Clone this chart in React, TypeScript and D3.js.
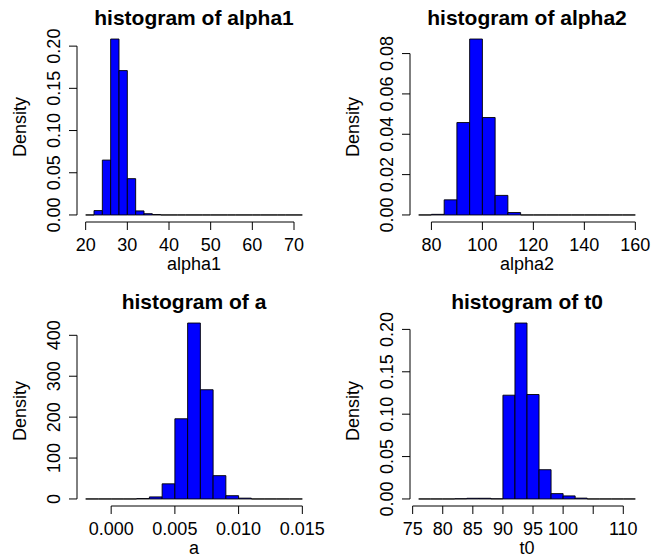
import React, { useEffect } from 'react'
import * as d3 from 'd3'

// histogram bins (breaks + density per bin)
const alpha1Breaks = [20, 22, 24, 26, 28, 30, 32, 34, 36, 38, 40, 42, 44, 46, 48, 50, 52, 54, 56, 58, 60, 62, 64, 66, 68, 70, 72]
const alpha1Density = [0, 0.0052, 0.065, 0.2084, 0.171, 0.043, 0.0048, 0.0015, 0.0005, 0, 0, 0, 0, 0, 0, 0, 0, 0, 0, 0, 0, 0, 0, 0, 0, 0]
const alpha1XTicks = [20, 30, 40, 50, 60, 70]
const alpha1XLabels = ['20', '30', '40', '50', '60', '70']
const alpha1YTicks = [0, 0.05, 0.1, 0.15, 0.2]
const alpha1YLabels = ['0.00', '0.05', '0.10', '0.15', '0.20']

const alpha2Breaks = [75, 80, 85, 90, 95, 100, 105, 110, 115, 120, 125, 130, 135, 140, 145, 150, 155, 160]
const alpha2Density = [0, 0.0003, 0.0075, 0.0458, 0.0872, 0.0483, 0.0097, 0.0012, 0, 0, 0, 0, 0, 0, 0, 0, 0]
const alpha2XTicks = [80, 100, 120, 140, 160]
const alpha2XLabels = ['80', '100', '120', '140', '160']
const alpha2YTicks = [0, 0.02, 0.04, 0.06, 0.08]
const alpha2YLabels = ['0.00', '0.02', '0.04', '0.06', '0.08']

const aBreaks = [-0.002, -0.001, 0, 0.001, 0.002, 0.003, 0.004, 0.005, 0.006, 0.007, 0.008, 0.009, 0.01, 0.011, 0.012, 0.013, 0.014, 0.015]
const aDensity = [0, 0, 0, 0, 1, 5, 37, 196, 430, 267, 57, 8, 2, 0, 0, 0, 0]
const aXTicks = [0, 0.005, 0.01, 0.015]
const aXLabels = ['0.000', '0.005', '0.010', '0.015']
const aYTicks = [0, 100, 200, 300, 400]
const aYLabels = ['0', '100', '200', '300', '400']

const t0Breaks = [76, 78, 80, 82, 84, 86, 88, 90, 92, 94, 96, 98, 100, 102, 104, 106, 108, 110, 112]
const t0Density = [0, 0, 0, 0.0003, 0.0008, 0.0008, 0.0002, 0.1224, 0.2075, 0.1232, 0.0345, 0.0063, 0.0036, 0.001, 0, 0, 0, 0]
const t0XTicks = [75, 80, 85, 90, 95, 100, 105, 110]
const t0XLabels = ['75', '80', '85', '90', '95', '100', '', '110'] // 105 dropped by R (overlap)
const t0YTicks = [0, 0.05, 0.1, 0.15, 0.2]
const t0YLabels = ['0.00', '0.05', '0.10', '0.15', '0.20']

const FONT = '"Liberation Sans", Arial, Helvetica, sans-serif'

// plot region inside each panel, like par(mar) in R
const PL = 77, PR = 311, PT = 32, PB = 222

type PanelProps = {
    x0: number, y0: number, title: string, xlab: string,
    breaks: number[], density: number[],
    xTicks: number[], xLabels: string[], yTicks: number[], yLabels: string[]
}

const Hist = (p: PanelProps) => {
    const lo = p.breaks[0], hi = p.breaks[p.breaks.length - 1]
    const span = hi - lo
    const x = d3.scaleLinear().domain([lo - 0.04 * span, hi + 0.04 * span]).range([PL, PR])
    const ymax = d3.max(p.density) ?? 1
    const y = d3.scaleLinear().domain([-0.04 * ymax, 1.04 * ymax]).range([PB, PT])

    // paths instead of rects so empty bins still show as a line on the baseline
    const bars = p.density.map((d, i) => {
        const xa = x(p.breaks[i]), xb = x(p.breaks[i + 1])
        const ya = y(0), yb = y(d)
        return `M${xa},${ya}L${xa},${yb}L${xb},${yb}L${xb},${ya}Z`
    })

    const xt0 = x(p.xTicks[0]), xt1 = x(p.xTicks[p.xTicks.length - 1])
    const yt0 = y(p.yTicks[0]), yt1 = y(p.yTicks[p.yTicks.length - 1])
    const midX = (PL + PR) / 2, midY = (PT + PB) / 2

    return (
        <g transform={`translate(${p.x0},${p.y0})`}>
            {bars.map((d, i) => (
                <path key={i} d={d} fill="#0000ff" stroke="#000" strokeWidth={0.9} />
            ))}
            {/* x axis */}
            <line x1={xt0} x2={xt1} y1={PB} y2={PB} stroke="#000" />
            {p.xTicks.map((t, i) => (
                <g key={i}>
                    <line x1={x(t)} x2={x(t)} y1={PB} y2={PB + 8} stroke="#000" />
                    <text x={x(t)} y={PB + 29} textAnchor="middle" fontSize={18}>{p.xLabels[i]}</text>
                </g>
            ))}
            {/* y axis */}
            <line x1={PL} x2={PL} y1={yt0} y2={yt1} stroke="#000" />
            {p.yTicks.map((t, i) => (
                <g key={i}>
                    <line x1={PL - 8} x2={PL} y1={y(t)} y2={y(t)} stroke="#000" />
                    <text transform={`translate(${PL - 17},${y(t)}) rotate(-90)`} textAnchor="middle" fontSize={18}>{p.yLabels[i]}</text>
                </g>
            ))}
            <text x={midX} y={25} textAnchor="middle" fontSize={21} fontWeight="bold">{p.title}</text>
            <text x={midX} y={PB + 48} textAnchor="middle" fontSize={18}>{p.xlab}</text>
            <text transform={`translate(26,${midY}) rotate(-90)`} textAnchor="middle" fontSize={18}>Density</text>
        </g>
    )
}

const App = () => {
    useEffect(() => {
        document.body.style.margin = '0'
    }, [])

    return (
        <svg width={661} height={559} style={{ display: 'block', background: '#fff', fontFamily: FONT }}>
            <Hist x0={0} y0={0} title="histogram of alpha1" xlab="alpha1"
                breaks={alpha1Breaks} density={alpha1Density}
                xTicks={alpha1XTicks} xLabels={alpha1XLabels} yTicks={alpha1YTicks} yLabels={alpha1YLabels} />
            <Hist x0={333} y0={0} title="histogram of alpha2" xlab="alpha2"
                breaks={alpha2Breaks} density={alpha2Density}
                xTicks={alpha2XTicks} xLabels={alpha2XLabels} yTicks={alpha2YTicks} yLabels={alpha2YLabels} />
            <Hist x0={0} y0={284} title="histogram of a" xlab="a"
                breaks={aBreaks} density={aDensity}
                xTicks={aXTicks} xLabels={aXLabels} yTicks={aYTicks} yLabels={aYLabels} />
            <Hist x0={333} y0={284} title="histogram of t0" xlab="t0"
                breaks={t0Breaks} density={t0Density}
                xTicks={t0XTicks} xLabels={t0XLabels} yTicks={t0YTicks} yLabels={t0YLabels} />
        </svg>
    )
}

export default App
